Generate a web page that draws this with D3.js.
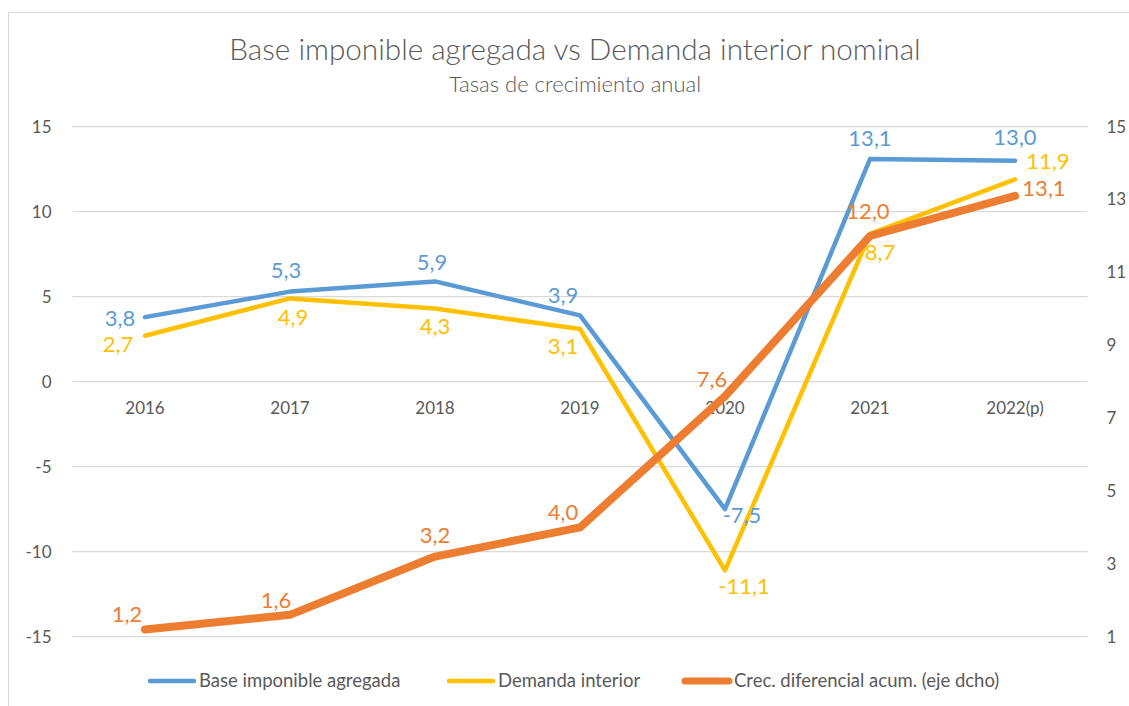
<!DOCTYPE html>
<html>
<head>
<meta charset="utf-8">
<script src="https://cdn.jsdelivr.net/npm/d3@7"></script>
<style>
  body { margin: 0; background: #fff; }
  text { font-family: Lato, "Noto Sans", sans-serif; fill: #595959; }
</style>
</head>
<body>
<div id="chart"></div>
<script>
// data
var years = ["2016", "2017", "2018", "2019", "2020", "2021", "2022(p)"];
var baseImponible = [3.8, 5.3, 5.9, 3.9, -7.5, 13.1, 13.0];
var demandaInterior = [2.7, 4.9, 4.3, 3.1, -11.1, 8.7, 11.9];
var crecDiferencial = [1.2, 1.6, 3.2, 4.0, 7.6, 12.0, 13.1];
var leftTicks = [-15, -10, -5, 0, 5, 10, 15];
var rightTicks = [1, 3, 5, 7, 9, 11, 13, 15];
var seriesNames = ["Base imponible agregada", "Demanda interior", "Crec. diferencial acum. (eje dcho)"];

// label offsets (dx, dy) from each point, like the manual placement in the source
var blueOff = [[-25, 1], [-4, -21], [-3, -19], [-17, -20], [17, 6], [0, -21], [0, -23]];
var yellowOff = [[-27, 9], [3, 19], [0, 18], [-17, 17], [19, 16], [10, 19], [33, -18]];
var orangeOff = [[-18, -15], [-14, -15], [0, -21], [-17, -15], [-13, -17], [-2, -25], [29, -8]];

var W = 1129, H = 706;
var margin = {top: 126.7, left: 72.5, right: W - 1087.5, bottom: H - 636.7};
var width = W - margin.left - margin.right,
    height = H - margin.top - margin.bottom;

var svg = d3.select("#chart").append("svg")
  .attr("width", W)
  .attr("height", H);

// chart border
svg.append("rect")
  .attr("x", 8.5).attr("y", 12.5)
  .attr("width", W).attr("height", H)
  .attr("fill", "none")
  .attr("stroke", "#d9d9d9");

// titles
svg.append("text")
  .attr("x", 575).attr("y", 60)
  .attr("text-anchor", "middle")
  .style("font-size", "29.7px")
  .style("font-weight", 300)
  .text("Base imponible agregada vs Demanda interior nominal");

svg.append("text")
  .attr("x", 575).attr("y", 92)
  .attr("text-anchor", "middle")
  .style("font-size", "22px")
  .style("font-weight", 300)
  .text("Tasas de crecimiento anual");

var g = svg.append("g")
  .attr("transform", "translate(" + margin.left + "," + margin.top + ")");

var x = d3.scaleBand().domain(years).range([0, width]);
var y = d3.scaleLinear().domain([-15, 15]).range([height, 0]);
var y2 = d3.scaleLinear().domain([1, 15]).range([height, 0]);
var cx = function(i) { return x(years[i]) + x.bandwidth() / 2; };

// gridlines
g.selectAll(".grid")
  .data(leftTicks)
  .enter().append("line")
  .attr("x1", 0).attr("x2", width)
  .attr("y1", d => y(d)).attr("y2", d => y(d))
  .attr("stroke", "#d9d9d9")
  .attr("stroke-width", 1.3);

// left axis labels
g.selectAll(".ltick")
  .data(leftTicks)
  .enter().append("text")
  .attr("x", -21)
  .attr("y", d => y(d))
  .attr("dy", "0.35em")
  .attr("text-anchor", "end")
  .style("font-size", "17px")
  .text(d => d);

// right axis labels
g.selectAll(".rtick")
  .data(rightTicks)
  .enter().append("text")
  .attr("x", width + 19)
  .attr("y", d => y2(d))
  .attr("dy", "0.35em")
  .attr("text-anchor", "start")
  .style("font-size", "17px")
  .text(d => d);

// category labels (under the zero line)
g.selectAll(".xlab")
  .data(years)
  .enter().append("text")
  .attr("x", d => x(d) + x.bandwidth() / 2)
  .attr("y", y(0) + 32)
  .attr("text-anchor", "middle")
  .style("font-size", "17px")
  .text(d => d);

var series = [
  {vals: baseImponible, scale: y, color: "#5b9bd5", w: 4.5, off: blueOff},
  {vals: demandaInterior, scale: y, color: "#ffc000", w: 4.5, off: yellowOff},
  {vals: crecDiferencial, scale: y2, color: "#ed7d31", w: 8, off: orangeOff}
];

// spanish decimal comma, plain hyphen for minus
var fmt = d => d3.format(".1f")(d).replace(".", ",").replace("\u2212", "-");

series.forEach(function(s) {
  var line = d3.line()
    .x((d, i) => cx(i))
    .y(d => s.scale(d));
  g.append("path")
    .datum(s.vals)
    .attr("d", line)
    .attr("fill", "none")
    .attr("stroke", s.color)
    .attr("stroke-width", s.w)
    .attr("stroke-linejoin", "round")
    .attr("stroke-linecap", "round");
});

series.forEach(function(s) {
  g.selectAll(null)
    .data(s.vals)
    .enter().append("text")
    .attr("x", (d, i) => cx(i) + s.off[i][0])
    .attr("y", (d, i) => s.scale(d) + s.off[i][1])
    .attr("dy", "0.35em")
    .attr("text-anchor", "middle")
    .style("font-size", "22px")
    .style("fill", s.color)
    .text(d => fmt(d));
});

// legend
var legendX = [148, 447, 683];
var legend = svg.selectAll(".legend")
  .data(series)
  .enter().append("g")
  .attr("transform", (d, i) => "translate(" + legendX[i] + ",681)");

legend.append("line")
  .attr("x1", 2).attr("x2", 46)
  .attr("stroke", d => d.color)
  .attr("stroke-width", d => d.w === 8 ? 7 : 4.5)
  .attr("stroke-linecap", "round");

legend.append("text")
  .attr("x", 51)
  .attr("dy", "0.35em")
  .style("font-size", "18.5px")
  .text((d, i) => seriesNames[i]);
</script>
</body>
</html>
